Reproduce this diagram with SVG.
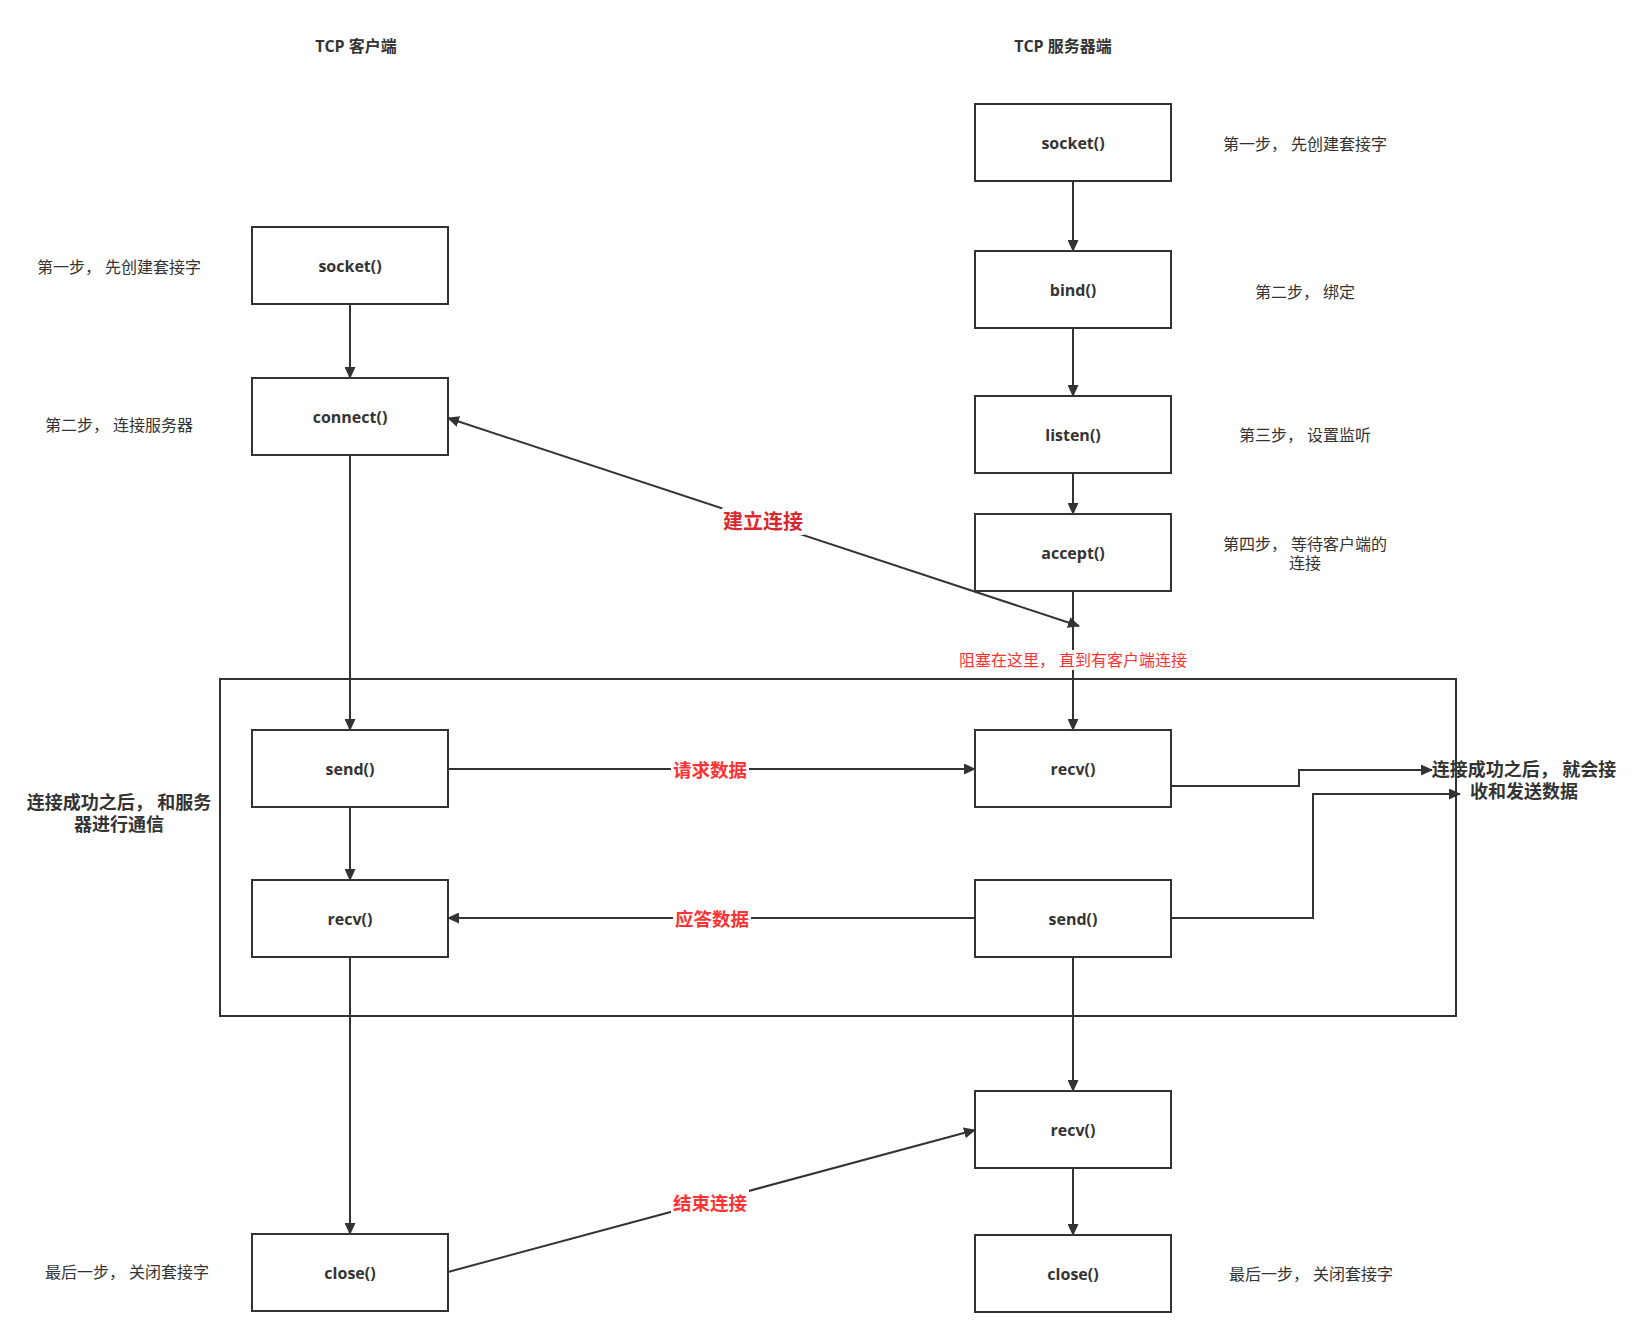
<svg xmlns="http://www.w3.org/2000/svg" width="1643" height="1337" viewBox="0 0 1643 1337">
<style>
text{font-family:"Open Sans","Noto Sans CJK SC",sans-serif;fill:#333333;text-anchor:middle;dominant-baseline:central}
.box{fill:#ffffff;stroke:#333333;stroke-width:2}
.fn{font-size:16px;font-weight:bold}
.hd{font-size:16px;font-weight:bold}
.note{font-size:16px}
.bnote{font-size:18px;font-weight:bold}
.edge{fill:none;stroke:#333333;stroke-width:2}
.red{fill:#ff3333;font-weight:bold;font-size:18.5px}
.red2{fill:#d9282d;font-weight:bold;font-size:20px}
.redn{fill:#ff3333;font-size:16px}
.bg{fill:#ffffff}
</style>
<defs>
<marker id="arr" viewBox="0 0 12 11" refX="11" refY="5.5" markerWidth="12" markerHeight="11" markerUnits="userSpaceOnUse" orient="auto-start-reverse">
<path d="M0,0 L12,5.5 L0,11 z" fill="#333333"/>
</marker>
</defs>
<rect x="0" y="0" width="1643" height="1337" fill="#ffffff"/>

<g id="headers">
<text class="hd" x="356" y="46">TCP 客户端</text>
<text class="hd" x="1063" y="46">TCP 服务器端</text>
</g>

<g id="container">
<rect x="220" y="679" width="1236" height="337" fill="none" stroke="#333333" stroke-width="2"/>
</g>

<g id="connectors">
<path class="edge" d="M350,305 V378" marker-end="url(#arr)"/>
<path class="edge" d="M350,455 V730" marker-end="url(#arr)"/>
<path class="edge" d="M350,807 V880" marker-end="url(#arr)"/>
<path class="edge" d="M350,957 V1234" marker-end="url(#arr)"/>
<path class="edge" d="M1073,181 V251" marker-end="url(#arr)"/>
<path class="edge" d="M1073,328 V396" marker-end="url(#arr)"/>
<path class="edge" d="M1073,473 V514" marker-end="url(#arr)"/>
<path class="edge" d="M1073,591 V730" marker-end="url(#arr)"/>
<path class="edge" d="M1073,957 V1091" marker-end="url(#arr)"/>
<path class="edge" d="M1073,1168 V1235" marker-end="url(#arr)"/>
<path class="edge" d="M1079,626 L448,418" marker-start="url(#arr)" marker-end="url(#arr)"/>
<path class="edge" d="M448,769 H975" marker-end="url(#arr)"/>
<path class="edge" d="M975,918 H448" marker-end="url(#arr)"/>
<path class="edge" d="M448,1272 L975,1130" marker-end="url(#arr)"/>
<path class="edge" d="M1171,786 H1299 V770 H1432" marker-end="url(#arr)"/>
<path class="edge" d="M1171,918 H1313 V794 H1460" marker-end="url(#arr)"/>
<rect class="bg" x="957" y="650" width="232" height="20"/>
<text class="redn" x="1073" y="660">阻塞在这里， 直到有客户端连接</text>
<rect class="bg" x="722" y="508" width="82" height="27"/>
<text class="red2" x="763" y="521">建立连接</text>
<rect class="bg" x="671" y="757" width="78" height="24"/>
<text class="red" x="710" y="769">请求数据</text>
<rect class="bg" x="673" y="906" width="78" height="24"/>
<text class="red" x="712" y="918">应答数据</text>
<rect class="bg" x="671" y="1190" width="78" height="24"/>
<text class="red" x="710" y="1202">结束连接</text>
</g>

<g id="client-socket"><rect class="box" x="252" y="227" width="196" height="77"/><text class="fn" x="350" y="265.5">socket()</text></g>
<g id="client-connect"><rect class="box" x="252" y="378" width="196" height="77"/><text class="fn" x="350" y="416.5">connect()</text></g>
<g id="client-send"><rect class="box" x="252" y="730" width="196" height="77"/><text class="fn" x="350" y="768.5">send()</text></g>
<g id="client-recv"><rect class="box" x="252" y="880" width="196" height="77"/><text class="fn" x="350" y="918.5">recv()</text></g>
<g id="client-close"><rect class="box" x="252" y="1234" width="196" height="77"/><text class="fn" x="350" y="1272.5">close()</text></g>

<g id="server-socket"><rect class="box" x="975" y="104" width="196" height="77"/><text class="fn" x="1073" y="142.5">socket()</text></g>
<g id="server-bind"><rect class="box" x="975" y="251" width="196" height="77"/><text class="fn" x="1073" y="289.5">bind()</text></g>
<g id="server-listen"><rect class="box" x="975" y="396" width="196" height="77"/><text class="fn" x="1073" y="434.5">listen()</text></g>
<g id="server-accept"><rect class="box" x="975" y="514" width="196" height="77"/><text class="fn" x="1073" y="552.5">accept()</text></g>
<g id="server-recv"><rect class="box" x="975" y="730" width="196" height="77"/><text class="fn" x="1073" y="768.5">recv()</text></g>
<g id="server-send"><rect class="box" x="975" y="880" width="196" height="77"/><text class="fn" x="1073" y="918.5">send()</text></g>
<g id="server-recv2"><rect class="box" x="975" y="1091" width="196" height="77"/><text class="fn" x="1073" y="1129.5">recv()</text></g>
<g id="server-close"><rect class="box" x="975" y="1235" width="196" height="77"/><text class="fn" x="1073" y="1273.5">close()</text></g>

<g id="client-notes">
<text class="note" x="119" y="267">第一步， 先创建套接字</text>
<text class="note" x="119" y="425">第二步， 连接服务器</text>
<text class="bnote" x="119" y="802">连接成功之后， 和服务</text>
<text class="bnote" x="119" y="824">器进行通信</text>
<text class="note" x="127" y="1272">最后一步， 关闭套接字</text>
</g>

<g id="server-notes">
<text class="note" x="1305" y="144">第一步， 先创建套接字</text>
<text class="note" x="1305" y="292">第二步， 绑定</text>
<text class="note" x="1305" y="435">第三步， 设置监听</text>
<text class="note" x="1305" y="544">第四步， 等待客户端的</text>
<text class="note" x="1305" y="563">连接</text>
<text class="note" x="1311" y="1274">最后一步， 关闭套接字</text>
<text class="bnote" x="1524" y="769">连接成功之后， 就会接</text>
<text class="bnote" x="1524" y="791">收和发送数据</text>
</g>
</svg>
